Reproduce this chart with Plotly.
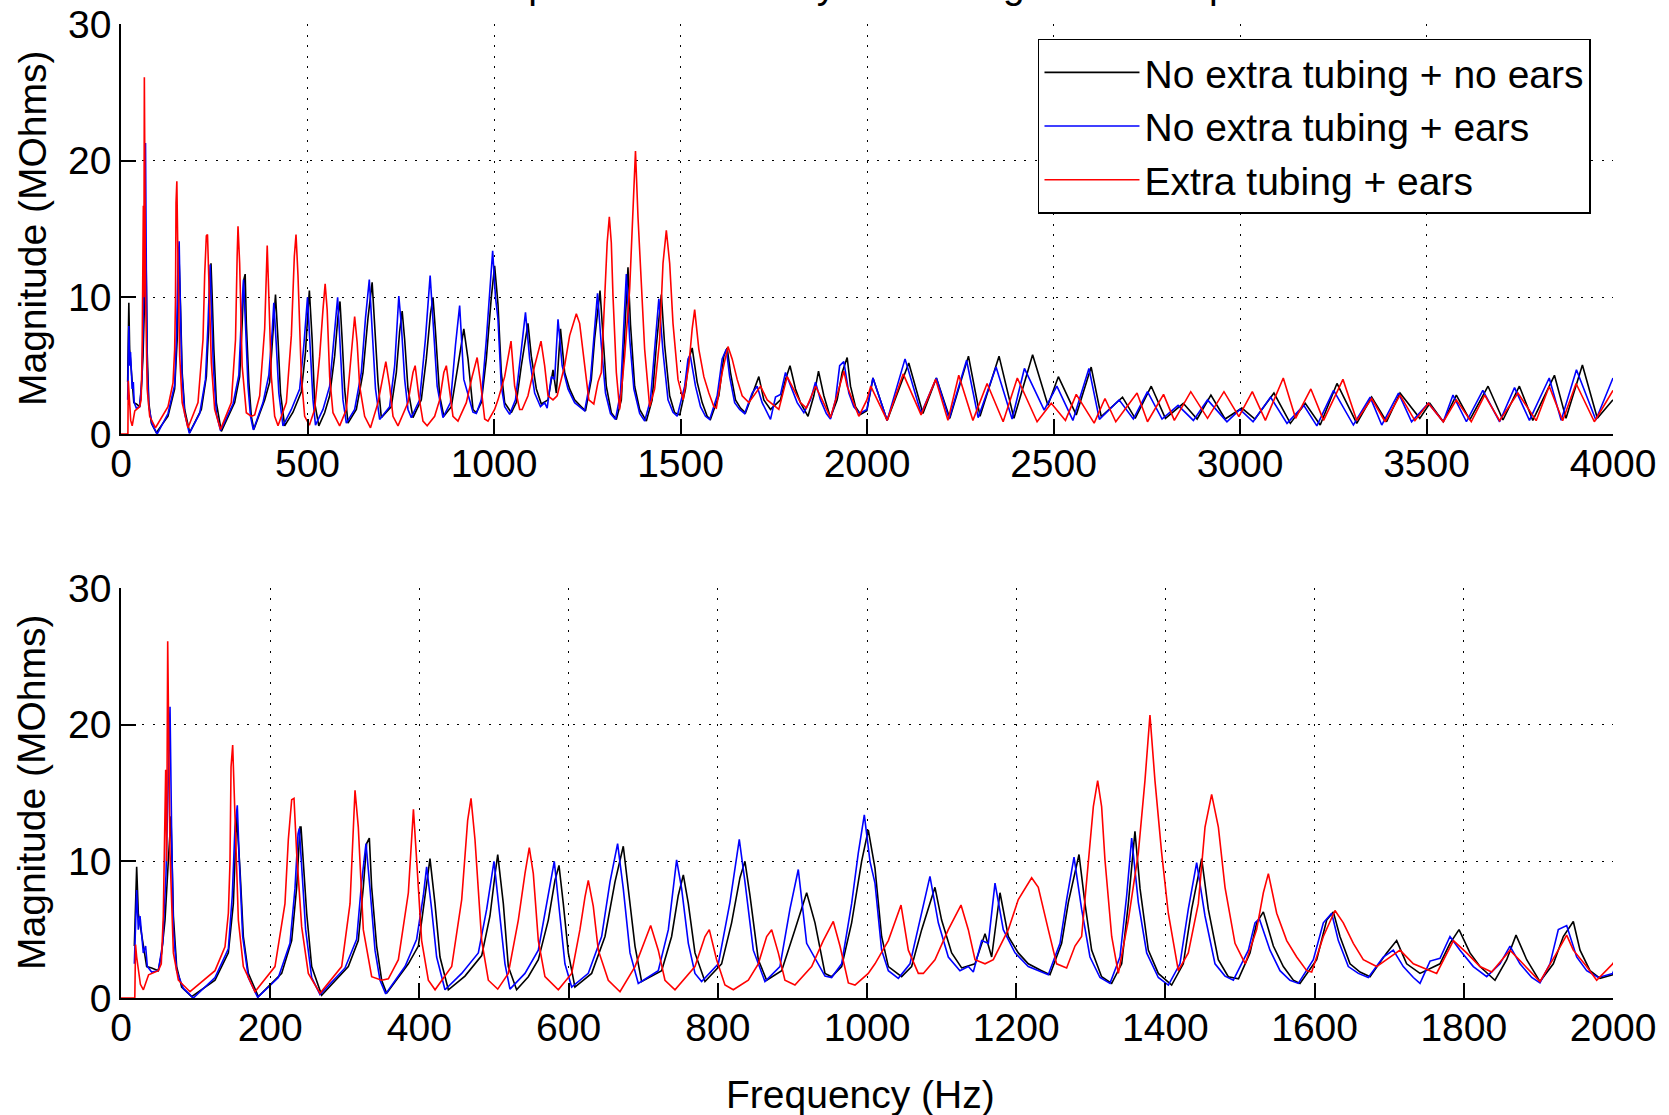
import plotly.graph_objects as go

# ---- measured impedance magnitude (MOhms) vs frequency (Hz) ----
freq_black = [17.9, 21.0, 23.2, 27.7, 32.2, 34.4, 41.1, 50.0, 54.5, 59.0, 63.4, 67.0, 70.2, 74.6, 81.3, 94.7,
              126, 143.9, 150.6, 153.7, 155, 159.5, 164, 170.7, 184.1,
              215.4, 228.8, 235.5, 240, 241.3, 244.4, 248.9, 255.6, 269,
              304.7, 318.1, 324.8, 329.3, 332.9, 336, 342.7, 349.4, 356.1,
              385.2, 398.6, 407.5, 414.2, 420.9, 427.6, 438.8,
              461.1, 483.5, 494.6, 501.3, 505, 512.5, 519.2, 530.3,
              546, 559.4, 572.8, 581.7, 587.1, 592.9, 599.6, 608.5,
              630.9, 648.8, 662.2, 673.3, 680, 689, 697.9,
              724.7, 738.1, 747, 753.8, 760.5, 769.4, 782.8,
              805.1, 818.5, 829.7, 836.4, 843.1, 854.3, 865.5,
              885.6, 903.4, 919.1, 930.3, 943.7, 952.6,
              966, 979.4, 992.8, 1001.7, 1010.7, 1019.6, 1028.6, 1046.4,
              1059.8, 1073.3, 1084.4, 1091.1, 1100, 1113.5, 1126.9, 1144.8, 1158.2, 1167.1, 1178.3,
              1189.4, 1202.8, 1216.2, 1234.1, 1245.3,
              1260.9, 1269.9, 1284.2, 1292.2, 1301.1, 1314.5, 1328,
              1341.4, 1350.3, 1359.2, 1366, 1377.1, 1390.5, 1408.4,
              1424, 1435.2, 1448.6, 1457.5, 1470.9, 1484.3, 1498,
              1513.4, 1522.3, 1531.3, 1544.7, 1558.1, 1571.5, 1580.4,
              1602.8, 1616.2, 1625.1, 1634, 1647.5, 1660.9, 1674.3,
              1696.6, 1710, 1723.4, 1741.3, 1768.1, 1781.5, 1793.6, 1808.3, 1821.7, 1841.8,
              1857.5, 1870, 1884.3, 1902.1,
              1920, 1933.4, 1946.8, 1955.8, 1969.2, 1982.6, 1999.6,
              2016, 2054, 2112, 2150, 2186, 2222, 2272, 2303, 2354, 2394, 2444, 2485, 2513, 2561,
              2601, 2628, 2685, 2719, 2762, 2800, 2848, 2885, 2922, 2960, 3005, 3040, 3091, 3135,
              3175, 3215, 3260, 3313, 3353, 3393, 3429, 3482, 3509, 3545, 3580, 3616, 3665, 3705,
              3749, 3785, 3843, 3874, 3918, 3958, 4000]
mag_black = [3.8, 9.6, 6.2, 4.7, 3.3, 2.3, 2.2, 2.0, 3.3, 5.7, 10.0, 13.3, 6.0, 2.3, 0.8, 0.1,
             1.3, 3.3, 6.9, 12.0, 13.4, 9.4, 4.5, 1.8, 0.1,
             1.8, 4.2, 8.1, 12.5, 12.5, 10.1, 6.2, 2.3, 0.2,
             2.3, 4.2, 8.1, 11.3, 11.7, 8.1, 3.8, 1.3, 0.34,
             2.5, 3.8, 7.5, 10.2, 6.9, 3.0, 0.6,
             1.6, 3.1, 6.0, 9.0, 10.5, 6.9, 2.3, 0.6,
             1.56, 2.8, 5.7, 8.6, 9.7, 6.9, 3.3, 0.8,
             1.8, 4.5, 8.5, 11.1, 8.1, 3.8, 1.2,
             2.0, 4.5, 7.5, 9.0, 6.9, 3.3, 1.2,
             2.5, 5.5, 8.8, 10.0, 7.5, 2.8, 1.3,
             2.0, 5.0, 7.7, 5.5, 1.8, 1.56,
             2.3, 5.5, 10.0, 12.3, 9.5, 4.5, 2.3, 1.56,
             2.3, 5.0, 7.0, 8.1, 5.7, 3.3, 2.2, 2.5, 4.7, 3.0, 7.7,
             4.5, 3.3, 2.5, 2.0, 1.7,
             4.0, 7.0, 10.5, 6.9, 3.5, 1.56, 1.07,
             2.5, 6.9, 12.2, 8.0, 3.5, 1.8, 0.95,
             2.5, 6.5, 10.2, 6.5, 2.8, 1.56, 1.4,
             3.3, 5.5, 6.3, 3.8, 2.3, 1.3, 1.07,
             2.8, 5.7, 6.3, 4.5, 2.5, 1.9, 1.56,
             3.3, 4.2, 2.5, 1.8, 2.5, 4.0, 5.0, 3.3, 2.3, 1.3,
             2.8, 4.6, 2.8, 1.2,
             2.5, 4.5, 5.6, 3.5, 2.0, 1.44, 1.7,
             4.1, 1.0, 5.2, 1.5, 4.1, 1.15, 5.7, 1.3, 5.7, 1.15, 5.8, 2.1, 4.2, 1.4,
             4.9, 1.27, 2.7, 1.15, 3.5, 1.15, 2.25, 1.1, 2.85, 1.1, 1.9, 1.1, 3.0, 0.78,
             2.25, 0.66, 3.7, 0.78, 2.7, 0.9, 3.0, 1.15, 2.25, 0.9, 2.85, 1.03, 3.5, 1.03,
             3.5, 1.0, 4.3, 1.15, 5.05, 1.15, 2.5]

freq_blue = [17.9, 21.0, 23.2, 25.5, 29.9, 33.0, 35.3, 41.1, 50.0, 55.9, 60.3, 63.4, 65.7, 67.9, 70.2, 74.6, 83.6, 97,
             126, 143.9, 149.2, 152.8, 155.9, 158.6, 163.1, 170.7, 183.2,
             210.9, 226.5, 233.2, 237.3, 239, 242.2, 247.5, 255.6, 266.8,
             300.3, 315.9, 322.6, 328.4, 333.8, 340.5, 347.2, 354.8,
             380.7, 396.3, 405.3, 409.7, 416.4, 423.1, 434.3,
             456.7, 479, 490.2, 500, 508, 514.7, 521.4,
             541.5, 559.4, 570.6, 580.8, 588.4, 595.1, 604.1,
             626.4, 644.3, 655.5, 665.7, 673.3, 682.3, 693.4,
             720.2, 733.7, 744.8, 751.5, 760.5, 769.4, 778.3,
             800.7, 816.3, 828.8, 836.4, 847.6, 863.2,
             883.3, 896.7, 907.9, 919.1, 930.3, 943.7, 952.6,
             966, 979.4, 988.3, 996.4, 1004, 1010.7, 1019.6, 1028.6, 1042,
             1057.6, 1073.3, 1084.4, 1095.6, 1109, 1124.6, 1135.8, 1142.5, 1153.7, 1162.6, 1171.6,
             1182.7, 1198.4, 1216.2, 1234.1, 1243,
             1258.7, 1267.6, 1277.5, 1287.7, 1298.9, 1312.3, 1325.7,
             1339.1, 1348.1, 1354.8, 1363.7, 1374.9, 1390.5, 1404,
             1419.5, 1430.7, 1441.9, 1453.1, 1466.5, 1479.9, 1491.1,
             1511.2, 1520.1, 1525.9, 1540.2, 1553.6, 1567, 1578.2,
             1598.3, 1611.7, 1622.9, 1631.8, 1645.2, 1658.6, 1672,
             1692.1, 1705.5, 1718.9, 1732.4, 1741.3, 1754.7, 1768.1, 1781.5, 1794.9, 1812.8, 1830.7,
             1848.5, 1861.9, 1875.3, 1891, 1902.1,
             1915.5, 1926.7, 1937.9, 1951.3, 1964.7, 1980.3, 1999.6,
             2016, 2054, 2102, 2145, 2186, 2220, 2267, 2298, 2346, 2389, 2422, 2475, 2509, 2552,
             2595, 2623, 2676, 2714, 2752, 2791, 2834, 2875, 2913, 2965, 3000, 3035, 3082, 3126,
             3171, 3206, 3251, 3304, 3349, 3380, 3425, 3460, 3505, 3545, 3571, 3607, 3651, 3696,
             3736, 3776, 3829, 3861, 3902, 3954, 4000]
mag_blue = [2.5, 7.9, 5.0, 6.0, 3.3, 3.8, 2.3, 1.9, 2.0, 4.0, 9.0, 16.0, 21.3, 12.0, 5.0, 2.0, 0.7, 0.0,
            1.5, 3.6, 7.5, 12.5, 14.1, 10.0, 4.5, 1.5, 0.05,
            1.5, 4.0, 8.0, 12.0, 12.4, 9.5, 5.0, 1.5, 0.25,
            2.2, 4.3, 8.5, 11.3, 8.0, 3.5, 1.3, 0.3,
            2.3, 4.3, 7.5, 9.6, 6.5, 3.0, 0.6,
            1.8, 3.3, 6.5, 10.0, 6.0, 2.5, 0.65,
            1.8, 3.5, 6.8, 10.0, 6.0, 2.5, 0.8,
            1.8, 4.5, 8.5, 11.3, 8.0, 3.3, 1.07,
            2.0, 5.0, 10.1, 8.0, 4.0, 1.8, 1.2,
            2.5, 7.0, 11.6, 8.5, 3.5, 1.2,
            2.3, 6.5, 9.4, 4.0, 2.9, 1.6, 1.5,
            2.5, 6.9, 10.6, 13.4, 10.0, 8.4, 3.5, 2.0, 1.44,
            2.5, 6.2, 8.9, 5.5, 3.0, 2.0, 2.3, 1.9, 4.2, 4.0, 8.4,
            5.0, 3.3, 2.3, 1.9, 1.7,
            4.0, 7.2, 10.3, 6.5, 3.0, 1.5, 1.07,
            3.0, 7.5, 11.7, 7.0, 3.3, 1.5, 0.95,
            2.5, 6.5, 9.9, 6.0, 2.5, 1.6, 1.3,
            3.5, 5.5, 5.8, 3.5, 2.0, 1.3, 1.07,
            2.8, 5.5, 6.2, 4.2, 2.3, 1.8, 1.5,
            3.0, 3.5, 2.3, 1.5, 1.07, 2.7, 2.9, 4.5, 3.5, 2.3, 1.56,
            2.5, 3.8, 2.5, 1.5, 1.1,
            2.5, 5.0, 5.3, 3.0, 2.0, 1.5, 1.8,
            4.1, 1.0, 5.5, 1.5, 4.1, 1.1, 5.4, 1.2, 4.9, 1.1, 4.8, 1.75, 3.5, 1.0,
            4.8, 1.07, 2.5, 1.1, 3.1, 1.1, 2.1, 1.0, 2.5, 0.9, 1.8, 0.9, 2.7, 0.78,
            2.1, 0.6, 3.2, 0.66, 2.7, 0.66, 3.0, 0.9, 2.25, 0.9, 2.85, 0.9, 3.2, 0.9,
            3.4, 1.0, 4.1, 1.0, 4.7, 1.03, 4.1]

freq_red = [0, 18.5, 19.5, 21, 26, 30, 37, 50, 54, 56.7, 59.9, 61.2, 62.6, 65.7, 70.2, 76.9, 92.5,
            126, 139.4, 143.9, 146.1, 147.5, 149.7, 152.8, 157.3, 164, 179.6,
            206.4, 219.8, 224.3, 228.8, 231.9, 235.5, 242.2, 251.1, 266.8,
            295.8, 307, 311.4, 313.7, 318.1, 324.8, 336, 349.4, 358.4, 371.8, 385.2, 392, 396.3, 403, 412, 421,
            443.3, 456.7, 464.7, 469.2, 474.5, 483.5, 492.4, 505,
            519.2, 532.6, 541.5, 547.3, 552.7, 559.4, 568.3, 586.2,
            604.1, 615.2, 622, 626.4, 633.1, 639.8, 653.2, 668.9,
            689, 702.4, 710, 720.2, 729.2, 742.6,
            769.4, 782.8, 788.6, 798.4, 809.6, 820.8,
            840.9, 854.3, 865.5, 872.2, 881.1, 890, 903.4,
            925.8, 941.4, 954.8, 963.8, 975, 983.9,
            1001.7, 1010.7, 1028.6, 1045.6, 1055.4, 1068.8, 1075.5, 1091.1, 1109, 1126, 1135.8, 1144.8,
            1158.2, 1169.3, 1189.4, 1202.8, 1220.7, 1229.6, 1243, 1254.2, 1267.6, 1278.8, 1287.7,
            1296.7, 1303.4, 1309.2, 1314.5, 1319, 1328, 1336.9, 1350.3, 1363.7, 1372.6, 1379.3,
            1386, 1395, 1403.9, 1417.3, 1430.7, 1444.1, 1453.1, 1462, 1471, 1479.9, 1493.3, 1507,
            1522.3, 1531.3, 1538, 1549.2, 1562.6, 1576, 1589.4, 1596.1, 1611.7, 1627.3, 1638.5,
            1651.9, 1665.3, 1683.2, 1714.5, 1732.4, 1763.6, 1786, 1803.8, 1821.7, 1837.4, 1861.9,
            1879.8, 1902.1, 1924.5, 1937.9, 1946.8, 1964.7, 1978.1, 1999.6,
            2010, 2054, 2097, 2145, 2184, 2217, 2246, 2284, 2322, 2365, 2403, 2456, 2494, 2532,
            2561, 2609, 2638, 2667, 2724, 2752, 2795, 2824, 2868, 2913, 2957, 2997, 3033, 3068,
            3116, 3149, 3190, 3224, 3276, 3313, 3353, 3389, 3429, 3469, 3505, 3545, 3580, 3620,
            3656, 3696, 3745, 3794, 3829, 3865, 3901, 3950, 4000]
mag_red = [0, 0, 3.9, 3.0, 1.0, 0.6, 1.7, 2.0, 2.5, 6.0, 16.7, 10.0, 26.1, 10.6, 3.3, 1.3, 0.46,
           2.0, 3.75, 6.2, 9.9, 16.9, 18.5, 12.5, 5.7, 2.3, 0.46,
           2.3, 6.9, 11.6, 14.5, 14.6, 10.6, 5.2, 1.8, 0.34,
           2.3, 6.9, 13.0, 15.2, 12.5, 5.0, 1.56, 1.3, 1.4, 2.8, 7.7, 13.8, 10.1, 4.2, 1.3, 0.6,
           2.3, 7.2, 13.0, 14.6, 11.6, 4.2, 1.3, 0.65,
           1.8, 5.7, 9.1, 11.0, 9.1, 4.2, 1.56, 0.6,
           1.8, 5.0, 7.4, 8.6, 6.7, 3.5, 1.3, 0.46,
           2.3, 4.2, 5.3, 3.5, 1.3, 0.6,
           2.3, 4.5, 5.0, 2.8, 0.95, 0.6,
           1.3, 2.5, 4.5, 5.0, 3.3, 1.3, 0.95,
           2.3, 4.2, 5.6, 3.8, 1.1, 0.95,
           1.8, 2.5, 4.2, 6.8, 3.5, 1.8, 1.8, 2.8, 5.0, 6.8, 5.0, 2.8,
           2.5, 2.8, 5.0, 7.2, 8.8, 8.1, 5.0, 2.5, 2.2, 3.8, 4.5,
           10.1, 14.0, 15.9, 14.0, 10.1, 4.5, 1.8, 5.7, 10.6, 15.9, 20.7,
           15.9, 10.6, 6.2, 2.0, 3.3, 6.9, 12.5, 14.9, 12.5, 8.1, 4.0, 2.5,
           5.0, 7.7, 9.1, 6.2, 4.2, 3.0, 2.0, 1.9, 4.5, 6.4, 5.5,
           4.0, 2.8, 2.3, 3.5, 2.5, 1.8, 4.2, 3.3, 2.3, 1.9, 3.5,
           2.5, 1.2, 3.3, 4.6, 3.5, 2.3, 1.3, 2.5,
           3.5, 1.0, 4.4, 1.4, 4.0, 1.0, 4.3, 1.0, 3.7, 0.9, 4.1, 0.9, 2.25, 1.0,
           2.9, 0.8, 2.6, 0.9, 3.0, 0.9, 2.9, 1.0, 3.1, 1.15, 3.1, 1.27, 3.1, 1.0,
           4.1, 1.15, 3.3, 1.0, 4.0, 1.0, 2.6, 0.9, 2.85, 0.98, 2.25, 0.9, 2.5, 0.9,
           2.85, 0.98, 3.0, 0.98, 3.5, 0.98, 3.7, 0.9, 3.2]

series_names = ["No extra tubing + no ears", "No extra tubing + ears", "Extra tubing + ears"]
series_colors = ["#000000", "#0000ff", "#ff0000"]
series_freq = [freq_black, freq_blue, freq_red]
series_mag = [mag_black, mag_blue, mag_red]

x_ticks_full = [0, 500, 1000, 1500, 2000, 2500, 3000, 3500, 4000]
x_ticks_zoom = [0, 200, 400, 600, 800, 1000, 1200, 1400, 1600, 1800, 2000]
y_ticks = [0, 10, 20, 30]

title_text = "Impedance of the system using three setups"
y_title = "Magnitude (MOhms)"
x_title = "Frequency (Hz)"

FONT = "Liberation Sans, Arial, Helvetica, sans-serif"
FS = 39

fig = go.Figure()
for name, color, fx, my in zip(series_names, series_colors, series_freq, series_mag):
    # full range panel
    fig.add_trace(go.Scatter(x=fx, y=my, mode="lines", name=name, legendgroup=name,
                             line=dict(color=color, width=1.6), xaxis="x", yaxis="y"))
    # 0-2000 Hz panel
    fig.add_trace(go.Scatter(x=fx, y=my, mode="lines", name=name, legendgroup=name, showlegend=False,
                             line=dict(color=color, width=1.6), xaxis="x2", yaxis="y2"))

axis_common = dict(
    automargin=False,
    showline=True, linecolor="black", linewidth=1.6,
    ticks="inside", ticklen=15, tickwidth=1.6, tickcolor="black",
    showgrid=True, gridcolor="black", gridwidth=1, griddash="2px,8.5px",
    zeroline=False, tickfont=dict(family=FONT, size=FS, color="black"),
)
x_common = dict(axis_common, ticklabelstandoff=-6)

fig.update_layout(
    template="none",
    width=1669, height=1115,
    margin=dict(l=121, r=56, t=24, b=117, autoexpand=False),
    paper_bgcolor="white", plot_bgcolor="white",
    font=dict(family=FONT, size=FS, color="black"),
    xaxis=dict(domain=[0, 1], range=[0, 4000], tickvals=x_ticks_full, anchor="y", **x_common),
    yaxis=dict(domain=[0.579, 1], range=[0, 30], tickvals=y_ticks, anchor="x", **axis_common),
    xaxis2=dict(domain=[0, 1], range=[0, 2000], tickvals=x_ticks_zoom, anchor="y2", **x_common),
    yaxis2=dict(domain=[0, 0.421], range=[0, 30], tickvals=y_ticks, anchor="x2", **axis_common),
    legend=dict(x=0.6146, y=0.9846, xanchor="left", yanchor="top",
                bgcolor="white", bordercolor="black", borderwidth=1.5,
                font=dict(family=FONT, size=FS, color="black"),
                itemwidth=95, tracegroupgap=0),
    showlegend=True,
)

annotations = [
    dict(text=title_text, x=0.5, y=1, xref="paper", yref="paper", xanchor="center", yanchor="bottom",
         yshift=17, borderpad=0, showarrow=False, font=dict(family=FONT, size=FS, color="black")),
    dict(text=y_title, x=0, y=0.7895, xref="paper", yref="paper", xanchor="center", yanchor="middle",
         xshift=-89, textangle=-90, showarrow=False, font=dict(family=FONT, size=FS, color="black")),
    dict(text=y_title, x=0, y=0.2105, xref="paper", yref="paper", xanchor="center", yanchor="middle",
         xshift=-89, textangle=-90, showarrow=False, font=dict(family=FONT, size=FS, color="black")),
    dict(text=x_title, x=0.5, y=0, xref="paper", yref="paper", xanchor="center", yanchor="middle",
         xshift=-7, yshift=-96, showarrow=False, font=dict(family=FONT, size=FS, color="black")),
]
fig.update_layout(annotations=annotations)

fig.write_html("out.html")
